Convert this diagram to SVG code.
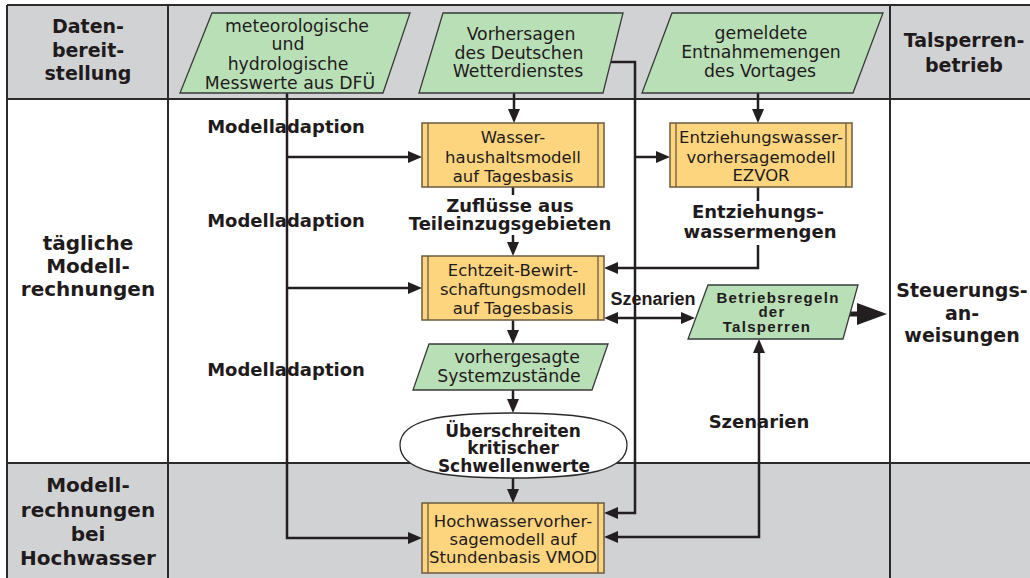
<svg xmlns="http://www.w3.org/2000/svg" width="1030" height="578" viewBox="0 0 1030 578">
  <defs>
    <style>
      .band { fill: #d1d2d4; }
      .grid { stroke: #2b2b2b; stroke-width: 2; fill: none; }
      .io { fill: #b9dfb6; stroke: #3a3a3a; stroke-width: 1.3; }
      .proc { fill: #fdd57e; stroke: #6b5b40; stroke-width: 1.5; }
      .proc-edge { stroke: #6b5b40; stroke-width: 1.3; fill: none; }
      .term { fill: #ffffff; stroke: #2b2b2b; stroke-width: 1.3; }
      .wire { stroke: #231f20; stroke-width: 2.5; fill: none; }
      text { fill: #1f1b1c; text-anchor: middle; }
      .head { font-family: "DejaVu Sans", sans-serif; font-weight: bold; font-size: 20px; }
      .head19 { font-family: "DejaVu Sans", sans-serif; font-weight: bold; font-size: 19px; }
      .lbl { font-family: "DejaVu Sans", sans-serif; font-weight: bold; font-size: 18px; }
      .lbl17 { font-family: "DejaVu Sans", sans-serif; font-weight: bold; font-size: 17px; }
      .rule { font-family: "Liberation Sans", Arial, sans-serif; font-weight: bold; font-size: 15px; letter-spacing: 1.3px; }
      .scen { font-family: "Liberation Sans", Arial, sans-serif; font-weight: bold; font-size: 18px; }
      .txt { font-family: "DejaVu Sans", sans-serif; font-size: 16.5px; }
      .ptxt { font-family: "DejaVu Sans", sans-serif; font-size: 17.3px; }
    </style>
    <marker id="arrow" viewBox="0 0 14 12" refX="6" refY="6" markerWidth="14" markerHeight="12" markerUnits="userSpaceOnUse" orient="auto-start-reverse">
      <path d="M0,0 L14,6 L0,12 z" fill="#231f20"/>
    </marker>
  </defs>

  <!-- swimlane background -->
  <g id="lanes">
    <rect class="band" x="7" y="5" width="1023" height="94"/>
    <rect x="7" y="99" width="1023" height="364" fill="#ffffff"/>
    <rect class="band" x="7" y="463" width="1023" height="115"/>
    <path class="grid" d="M7,5 H1030 M7,99 H1030 M7,463 H1030 M7,5 V578 M168,5 V578 M890,5 V578"/>
  </g>

  <!-- lane headings -->
  <g id="lane-titles">
    <text class="head19"><tspan x="88" y="33">Daten-</tspan><tspan x="88" y="57">bereit-</tspan><tspan x="88" y="80">stellung</tspan></text>
    <text class="head"><tspan x="88" y="250">tägliche</tspan><tspan x="88" y="273">Modell-</tspan><tspan x="88" y="296">rechnungen</tspan></text>
    <text class="head"><tspan x="88" y="492">Modell-</tspan><tspan x="88" y="517">rechnungen</tspan><tspan x="88" y="541">bei</tspan><tspan x="88" y="565">Hochwasser</tspan></text>
    <text class="head19"><tspan x="964" y="47">Talsperren-</tspan><tspan x="964" y="72">betrieb</tspan></text>
    <text class="head19"><tspan x="962" y="297">Steuerungs-</tspan><tspan x="962" y="320">an-</tspan><tspan x="962" y="342">weisungen</tspan></text>
  </g>

  <!-- connectors -->
  <g id="connectors">
    <path class="wire" d="M514,93 V115" marker-end="url(#arrow)"/>
    <path class="wire" d="M758,93 V115" marker-end="url(#arrow)"/>
    <path class="wire" d="M287,93 V538 H414" marker-end="url(#arrow)"/>
    <path class="wire" d="M287,157 H414" marker-end="url(#arrow)"/>
    <path class="wire" d="M287,288 H414" marker-end="url(#arrow)"/>
    <path class="wire" d="M610,62 H635 V513 H612" marker-end="url(#arrow)"/>
    <path class="wire" d="M635,157 H662" marker-end="url(#arrow)"/>
    <path class="wire" d="M513,187 V195"/>
    <path class="wire" d="M513,235 V248" marker-end="url(#arrow)"/>
    <path class="wire" d="M758,187 V201"/>
    <path class="wire" d="M758,245 V268 H612" marker-end="url(#arrow)"/>
    <path class="wire" d="M513,320 V336" marker-end="url(#arrow)"/>
    <path class="wire" d="M612,318 H687" marker-start="url(#arrow)" marker-end="url(#arrow)"/>
    <path class="wire" d="M513,390 V405" marker-end="url(#arrow)"/>
    <path class="wire" d="M513,478 V495" marker-end="url(#arrow)"/>
    <path class="wire" d="M759,347 V537 H612" marker-start="url(#arrow)" marker-end="url(#arrow)"/>
    <path d="M848,314 H862" stroke="#231f20" stroke-width="5" fill="none"/>
    <polygon points="857,303 887,314 857,325" fill="#231f20"/>
  </g>

  <!-- edge labels -->
  <g id="edge-labels">
    <text class="lbl" x="286" y="133">Modelladaption</text>
    <text class="lbl" x="286" y="227">Modelladaption</text>
    <text class="lbl" x="286" y="376">Modelladaption</text>
    <text class="lbl"><tspan x="510" y="212">Zuflüsse aus</tspan><tspan x="510" y="230">Teileinzugsgebieten</tspan></text>
    <text class="lbl"><tspan x="758" y="218">Entziehungs-</tspan><tspan x="760" y="238">wassermengen</tspan></text>
    <text class="scen" x="653" y="305">Szenarien</text>
    <text class="lbl" x="759" y="428">Szenarien</text>
  </g>

  <g id="messwerte">
    <polygon class="io" points="212,13 410,13 383,93 180,93"/>
    <text class="ptxt"><tspan x="297" y="32">meteorologische</tspan><tspan x="288" y="50">und</tspan><tspan x="288" y="70">hydrologische</tspan><tspan x="290" y="89">Messwerte aus DFÜ</tspan></text>
  </g>

  <g id="dwd">
    <polygon class="io" points="443,13 623,13 603,93 419,93"/>
    <text class="ptxt"><tspan x="521" y="40">Vorhersagen</tspan><tspan x="519" y="59">des Deutschen</tspan><tspan x="518" y="77">Wetterdienstes</tspan></text>
  </g>

  <g id="entnahme">
    <polygon class="io" points="672,13 883,13 853,93 642,93"/>
    <text class="ptxt"><tspan x="761" y="39">gemeldete</tspan><tspan x="761" y="58">Entnahmemengen</tspan><tspan x="760" y="77">des Vortages</tspan></text>
  </g>

  <g id="wasserhaushalt">
    <rect class="proc" x="422" y="123" width="182" height="64"/>
    <path class="proc-edge" d="M428,123 V187 M598,123 V187"/>
    <text class="txt"><tspan x="513" y="143">Wasser-</tspan><tspan x="513" y="163">haushaltsmodell</tspan><tspan x="513" y="182">auf Tagesbasis</tspan></text>
  </g>

  <g id="ezvor">
    <rect class="proc" x="670" y="123" width="182" height="64"/>
    <path class="proc-edge" d="M676,123 V187 M846,123 V187"/>
    <text class="txt"><tspan x="761" y="143">Entziehungswasser-</tspan><tspan x="761" y="163">vorhersagemodell</tspan><tspan x="761" y="181">EZVOR</tspan></text>
  </g>

  <g id="echtzeit">
    <rect class="proc" x="422" y="256" width="182" height="64"/>
    <path class="proc-edge" d="M428,256 V320 M598,256 V320"/>
    <text class="txt"><tspan x="513" y="276">Echtzeit-Bewirt-</tspan><tspan x="513" y="295">schaftungsmodell</tspan><tspan x="513" y="314">auf Tagesbasis</tspan></text>
  </g>

  <g id="betriebsregeln">
    <polygon class="io" points="708,285 858,285 843,339 688,339"/>
    <text class="rule"><tspan x="778" y="303">Betriebsregeln</tspan><tspan x="772" y="317">der</tspan><tspan x="767" y="332">Talsperren</tspan></text>
  </g>

  <g id="systemzustaende">
    <polygon class="io" points="429,344 608,344 592,390 413,390"/>
    <text class="ptxt"><tspan x="517" y="363">vorhergesagte</tspan><tspan x="509" y="382">Systemzustände</tspan></text>
  </g>

  <g id="schwellenwerte">
    <path class="term" d="M513,413 C585,413 627,420 627,445 C627,471 585,478 513,478 C441,478 400,471 400,445 C400,420 441,413 513,413 Z"/>
    <text class="lbl17"><tspan x="513" y="437">Überschreiten</tspan><tspan x="513" y="454">kritischer</tspan><tspan x="514" y="472">Schwellenwerte</tspan></text>
  </g>

  <g id="vmod">
    <rect class="proc" x="422" y="503" width="182" height="70"/>
    <path class="proc-edge" d="M428,503 V573 M598,503 V573"/>
    <text class="txt"><tspan x="513" y="527">Hochwasservorher-</tspan><tspan x="513" y="545">sagemodell auf</tspan><tspan x="513" y="563">Stundenbasis VMOD</tspan></text>
  </g>
</svg>
